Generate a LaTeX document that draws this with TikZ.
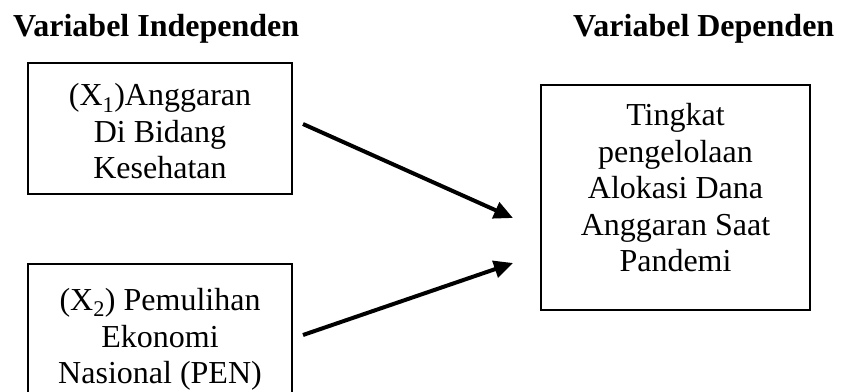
\documentclass[tikz,border=0pt]{standalone}
\usepackage{fontspec}
\setmainfont{Liberation Serif}
\usetikzlibrary{arrows.meta}
\begin{document}
\begin{tikzpicture}[x=1pt,y=-1pt,
  box/.style={draw=black,line width=1.6pt,rectangle,inner sep=0pt},
  txt/.style={align=center,inner sep=0pt,font=\fontsize{32}{36.5}\selectfont},
  title/.style={anchor=base west,inner sep=0pt,font=\fontsize{32}{36.5}\selectfont\bfseries},
  arr/.style={line width=4pt,-{Triangle[length=19pt,width=17pt]}}]
\clip (0,0) rectangle (843,391);
\node[title] (h1) at (13,36) {Variabel Independen};
\node[title] (h2) at (573,36) {Variabel Dependen};
\node[box,minimum width=264pt,minimum height=131pt] (b1) at (160,128.5) {};
\node[box,minimum width=264pt,minimum height=134pt] (b2) at (160,331) {};
\node[box,minimum width=269pt,minimum height=225pt] (b3) at (675.5,197.5) {};
\node[txt] (t1) at (160,131.5) {(X\textsubscript{1})Anggaran\\Di Bidang\\Kesehatan};
\node[txt] (t2) at (160,339.5) {(X\textsubscript{2}) Pemulihan\\Ekonomi\\Nasional (PEN)};
\node[txt] (t3) at (675.5,188) {Tingkat\\pengelolaan\\Alokasi Dana\\Anggaran Saat\\Pandemi};
\coordinate (s1) at (303,124);
\coordinate (e1) at (513,218);
\coordinate (s2) at (303,335);
\coordinate (e2) at (513,263);
\draw[arr] (s1) -- (e1);
\draw[arr] (s2) -- (e2);
\end{tikzpicture}
\end{document}
